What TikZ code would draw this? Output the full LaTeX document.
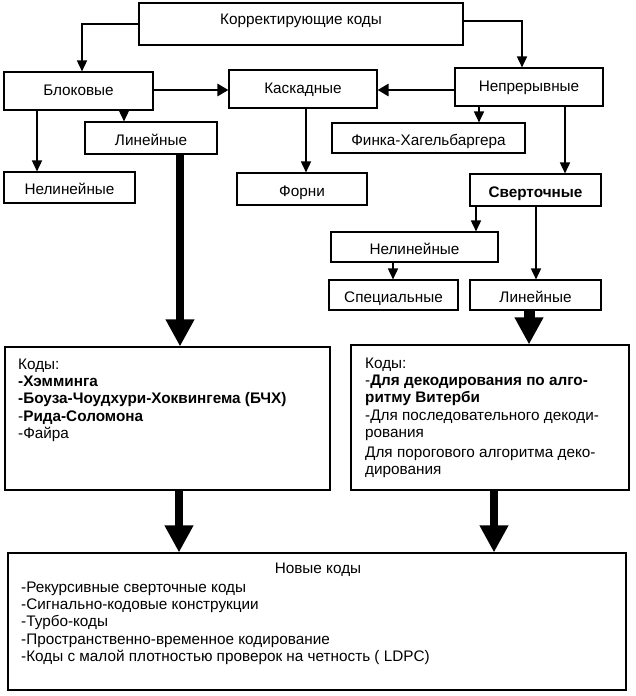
\documentclass[tikz,border=0pt]{standalone}
\usepackage{fontspec}
\setmainfont{Liberation Sans}
\usetikzlibrary{arrows.meta,calc}
\begin{document}
\begin{tikzpicture}[x=1pt,y=-1pt,
  every node/.style={font=\fontsize{15.3}{17.3}\selectfont},
  box/.style={draw, line width=1.1pt, inner sep=0pt, text height=14.5pt, text depth=0pt},
  boxtop/.style={box, text height=11.5pt, text depth=2pt},
  lbl/.style={inner sep=0pt},
  txt/.style={inner sep=0pt, align=left, anchor=north west},
  arr/.style={line width=1.6pt, -{Triangle[length=11pt,width=10pt]}},
  harr/.style={line width=2.8pt, -{Triangle[length=11pt,width=12pt]}},
  bigarr/.style={line width=8pt, -{Triangle[length=27pt,width=27pt]}}]
\useasboundingbox (0,0) rectangle (635,696);
\fill[white] (0,0) rectangle (635,696);

% boxes
\node[box, minimum width=324pt, minimum height=42pt] (top) at (301,24) {};
\node[lbl] at (301,21) {Корректирующие коды};
\node[boxtop, minimum width=149pt, minimum height=38pt] (blok) at (78.5,91) {Блоковые};
\node[boxtop, minimum width=148pt, minimum height=38pt] (kask) at (303,89) {Каскадные};
\node[boxtop, minimum width=148pt, minimum height=38pt] (nepr) at (529,87) {Непрерывные};
\node[box, minimum width=132pt, minimum height=32pt] (linL) at (151,138) {Линейные};
\node[box, minimum width=131pt, minimum height=31pt] (nelinL) at (69.5,187.5) {Нелинейные};
\node[box, minimum width=130pt, minimum height=32pt] (forni) at (302,189) {Форни};
\node[box, minimum width=193pt, minimum height=30pt] (fink) at (428.5,138) {Финка-Хагельбаргера};
\node[box, minimum width=131pt, minimum height=32pt, font=\fontsize{15.3}{17.3}\selectfont\bfseries] (svert) at (535.5,190) {Сверточные};
\node[box, minimum width=167pt, minimum height=30pt] (nelinR) at (414.5,247) {Нелинейные};
\node[box, minimum width=129pt, minimum height=30pt] (spec) at (393.5,295) {Специальные};
\node[box, minimum width=131pt, minimum height=30pt] (linR) at (535.5,295) {Линейные};
\node[box, minimum width=325pt, minimum height=143pt] (kodyL) at (167.5,418.5) {};
\node[box, minimum width=278pt, minimum height=145pt] (kodyR) at (490,417.5) {};
\node[box, minimum width=618pt, minimum height=137pt] (nov) at (317,621.5) {};

% texts inside big boxes
\node[txt] at (18,358.5) {Коды:\\
\textbf{-Хэмминга}\\
\textbf{-Боуза-Чоудхури-Хоквингема (БЧХ)}\\
-\textbf{Рида-Соломона}\\
-Файра};
\node[txt] at (365,357.5) {Коды:\\
-\textbf{Для декодирования по алго-}\\
\textbf{ритму Витерби}\\
-Для последовательного декоди-\\
рования\\[2.5pt]
Для порогового алгоритма деко-\\
дирования};
\node[lbl] at (318,570) {Новые коды};
\node[txt] at (21,581.5) {-Рекурсивные сверточные коды\\
-Сигнально-кодовые конструкции\\
-Турбо-коды\\
-Пространственно-временное кодирование\\
-Коды с малой плотностью проверок на четность ( LDPC)};

% connectors
\draw[arr] (top.west) -| ([xshift=3.5pt]blok.north);
\draw[arr] ([yshift=3pt]top.east) -| ([xshift=-7pt]nepr.north);
\draw[harr] ([yshift=1pt]blok.east) -- ([yshift=1pt]blok.east -| kask.west);
\draw[harr] ([yshift=-3pt]nepr.west) -- ([yshift=-3pt]nepr.west -| kask.east);
\draw[arr] (blok.south -| 124,0) -- (linL.north -| 124,0);
\draw[arr] (blok.south -| 37,0) -- (nelinL.north -| 37,0);
\draw[arr] (kask.south -| 306,0) -- (forni.north -| 306,0);
\draw[arr] (nepr.south -| 479,0) -- (fink.north -| 479,0);
\draw[arr] (nepr.south -| 565,0) -- (svert.north -| 565,0);
\draw[arr] (svert.south -| 476,0) -- (nelinR.north -| 476,0);
\draw[arr] (svert.south -| 536,0) -- (linR.north -| 536,0);
\draw[arr] (nelinR.south -| 393,0) -- (spec.north -| 393,0);
\draw[bigarr] (linL.south -| 180,0) -- (kodyL.north -| 180,0);
\draw[bigarr, line width=11pt] (linR.south -| 529,0) -- (kodyR.north -| 529,0);
\draw[bigarr] (kodyL.south -| 179,0) -- (nov.north -| 179,0);
\draw[bigarr] (kodyR.south -| 494,0) -- (nov.north -| 494,0);
\end{tikzpicture}
\end{document}
